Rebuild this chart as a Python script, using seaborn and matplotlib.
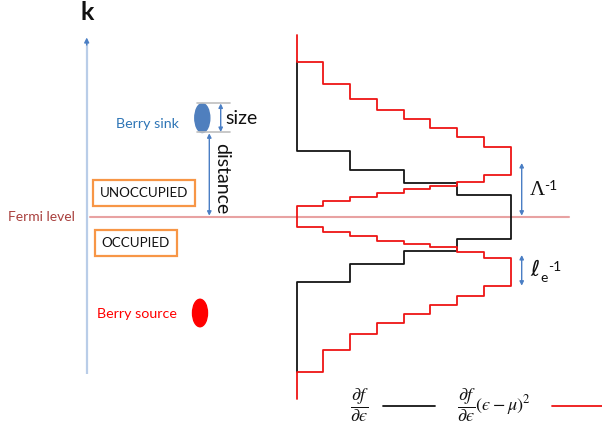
import matplotlib
matplotlib.use("Agg")
import matplotlib.pyplot as plt
from matplotlib.patches import Ellipse, Rectangle
import numpy as np
import pandas as pd
import seaborn as sns

sns.set_theme(style="white")
plt.rcParams["font.family"] = ["Lato", "DejaVu Sans"]
plt.rcParams["mathtext.fontset"] = "stix"

# Step weights as a function of |k - k_F| (k measured from the Fermi level)
red_edges = [0, 10.5, 15.3, 19.8, 24, 27.2, 30.5, 35, 41.5, 69.5, 79.8,
             88.3, 97.5, 106.5, 117.8, 133, 155, 182]
red_levels = [0, 1, 2, 3, 4, 5, 6, 7, 8, 7, 6, 5, 4, 3, 2, 1, 0]

black_edges = [0, 22, 34, 47, 65.5, 155.5]
black_levels = [8, 6, 4, 2, 0]

legend_labels = [r"$\dfrac{\partial f}{\partial ϵ}$",
                 r"$\dfrac{\partial f}{\partial ϵ}(ϵ-\mu)^2$"]


def step_path(edges, levels):
    """Symmetric step outline in (weight, k) running from +k_max to -k_max."""
    bounds = [-e for e in edges[:0:-1]] + list(edges[1:])
    levs = list(levels[:0:-1]) + list(levels)
    xs, ks = [], []
    for i, lv in enumerate(levs):
        xs += [lv, lv]
        ks += [bounds[i], bounds[i + 1]]
    return pd.DataFrame({"weight": xs[::-1], "k": ks[::-1]})


W, H = 602, 427
fig = plt.figure(figsize=(W / 100, H / 100), dpi=100)
ax = fig.add_axes([0, 0, 1, 1])
ax.set_xlim(0, W)
ax.set_ylim(H, 0)
ax.axis("off")

# axes for the step curves: weight 0..8 horizontally, k vertically
fermi_px = 217.5
x0_px, dx_px = 296.7, 26.75
kmax = 200
left_px = x0_px - 0.5 * dx_px
ax2 = fig.add_axes([left_px / W, (H - (fermi_px + kmax)) / H,
                    9 * dx_px / W, 2 * kmax / H])
ax2.set_xlim(-0.5, 8.5)
ax2.set_ylim(-kmax, kmax)
ax2.axis("off")
ax2.patch.set_alpha(0)

black_df = step_path(black_edges, black_levels)
red_df = step_path(red_edges, red_levels)
sns.lineplot(data=black_df, x="weight", y="k", sort=False, estimator=None,
             color="#151515", lw=1.3, ax=ax2)
sns.lineplot(data=red_df, x="weight", y="k", sort=False, estimator=None,
             color="#EE1515", lw=1.3, ax=ax2)

# k axis
ax.plot([86.7, 86.7], [44, 375], color="#B9CDE8", lw=1.6, solid_capstyle="butt")
ax.annotate("", xy=(86.7, 38.5), xytext=(86.7, 46),
            arrowprops=dict(arrowstyle="-|>", color="#4A7EC4", lw=1,
                            mutation_scale=7, shrinkA=0, shrinkB=0))
ax.text(87, 13, "k", fontsize=18, fontweight="bold", ha="center", va="center",
        color="#111111")

# Fermi level
ax.plot([89.5, 569], [fermi_px, fermi_px], color="#E8A2A2", lw=1.5, zorder=5)
ax.text(8, fermi_px, "Fermi level", fontsize=10, color="#A9413F",
        ha="left", va="center")

# occupied / unoccupied boxes
box_c = "#F79646"
ax.add_patch(Rectangle((93, 180.5), 102, 26, fill=False, ec=box_c, lw=1.6))
ax.text(144, 193.5, "UNOCCUPIED", fontsize=9.6, ha="center", va="center",
        color="#111111")
ax.add_patch(Rectangle((95, 230.5), 81.5, 26, fill=False, ec=box_c, lw=1.6))
ax.text(135.5, 243.5, "OCCUPIED", fontsize=9.6, ha="center", va="center",
        color="#111111")

# Berry sink with size / distance markers
ax.text(147, 124, "Berry sink", fontsize=10.3, color="#2E75B6",
        ha="center", va="center")
ax.add_patch(Ellipse((202.3, 119), 15, 29, color="#4F7FBE"))
ax.plot([196.5, 229.5], [104.3, 104.3], color="#BFBFBF", lw=1.2)
ax.plot([196.5, 229.5], [133.3, 133.3], color="#BFBFBF", lw=1.2)
arr = dict(arrowstyle="<|-|>", color="#4A7EC4", lw=1, mutation_scale=6,
           shrinkA=0, shrinkB=0)
ax.annotate("", xy=(220.7, 104.5), xytext=(220.7, 133), arrowprops=arr)
ax.text(225, 118.5, "size", fontsize=14, ha="left", va="center",
        color="#111111")
ax.annotate("", xy=(209.3, 134.3), xytext=(209.3, 216.7), arrowprops=arr)
ax.text(222, 179, "distance", fontsize=14, rotation=-90, ha="center",
        va="center", color="#111111")

# Berry source
ax.text(137, 314, "Berry source", fontsize=10.3, color="#FF0000",
        ha="center", va="center")
ax.add_patch(Ellipse((200, 314), 15, 27.5, color="#FF0000"))

# length scales
ax.annotate("", xy=(521.7, 164), xytext=(521.7, 216.7), arrowprops=arr)
ax.text(537, 190.5, "Λ", fontsize=15, family="Liberation Serif",
        ha="center", va="center", color="#111111")
ax.text(550.5, 186, "-1", fontsize=10, ha="center", va="center",
        color="#111111")
ax.annotate("", xy=(521.7, 256), xytext=(521.7, 286.7), arrowprops=arr)
ax.text(535, 270, "ℓ", fontsize=16, family=["DejaVu Serif", "DejaVu Sans"],
        ha="center", va="center", color="#111111")
ax.text(544.5, 278.5, "e", fontsize=10, ha="center", va="center",
        color="#111111")
ax.text(554.5, 267.5, "-1", fontsize=10, ha="center", va="center",
        color="#111111")

# legend
ax.text(359.5, 405, legend_labels[0], fontsize=13, ha="center", va="center",
        color="#111111")
ax.plot([383.3, 435], [406.7, 406.7], color="#151515", lw=1.3)
ax.text(457, 405, legend_labels[1], fontsize=13, ha="left", va="center",
        color="#111111")
ax.plot([551.7, 602], [406.7, 406.7], color="#EE1515", lw=1.3)

fig.savefig("out.png", dpi=100)
